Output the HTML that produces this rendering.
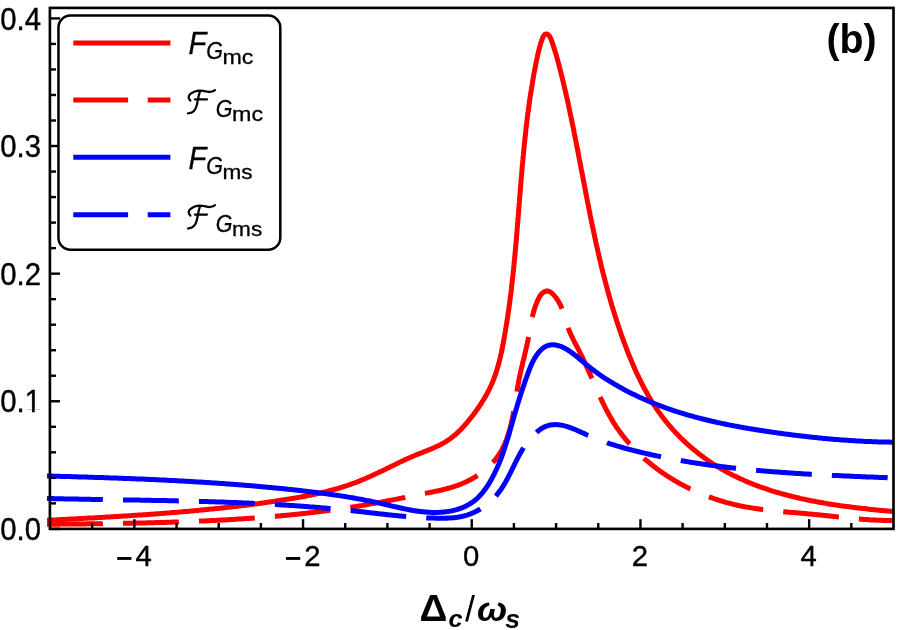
<!DOCTYPE html>
<html><head><meta charset="utf-8"><title>plot</title>
<style>html,body{margin:0;padding:0;background:#fff;color:#fff;font-size:1px;line-height:1px;}body{width:897px;height:630px;overflow:hidden;}svg{display:block;position:absolute;left:0;top:0;will-change:transform;}text{font-family:"Liberation Sans",sans-serif;fill:#000;}</style></head><body>
<svg width="897" height="630" viewBox="0 0 897 630">
<rect x="0" y="0" width="897" height="630" fill="#fff"/>
<g fill="none" stroke-linejoin="round" stroke-linecap="butt" stroke-width="5.00">
<path d="M47.0,520.3 L48.6,520.2 L50.3,520.1 L51.9,520.1 L53.5,520.0 L55.2,519.9 L56.8,519.8 L58.5,519.7 L60.1,519.6 L61.8,519.5 L63.4,519.5 L65.0,519.4 L66.7,519.3 L68.3,519.2 L70.0,519.1 L71.6,519.0 L73.3,518.9 L75.0,518.9 L76.6,518.8 L78.3,518.7 L79.9,518.6 L81.6,518.5 L83.2,518.4 L84.9,518.3 L86.6,518.2 L88.2,518.1 L89.9,518.1 L91.6,518.0 L93.2,517.9 L94.9,517.8 L96.5,517.7 L98.2,517.6 L99.9,517.5 L101.6,517.4 L103.2,517.3 L104.9,517.2 L106.6,517.1 L108.2,517.0 L109.9,516.9 L111.6,516.8 L113.3,516.7 L114.9,516.6 L116.6,516.5 L118.3,516.4 L120.0,516.3 L121.6,516.2 L123.3,516.1 L125.0,516.0 L126.7,515.9 L128.4,515.8 L130.0,515.7 L131.7,515.6 L133.4,515.5 L135.1,515.3 L136.8,515.2 L138.4,515.1 L140.1,515.0 L141.8,514.9 L143.5,514.8 L145.2,514.7 L146.9,514.5 L148.5,514.4 L150.2,514.3 L151.9,514.2 L153.6,514.1 L155.3,513.9 L157.0,513.8 L158.7,513.7 L160.3,513.6 L162.0,513.4 L163.7,513.3 L165.4,513.2 L167.1,513.0 L168.8,512.9 L170.4,512.8 L172.1,512.6 L173.8,512.5 L175.5,512.4 L177.2,512.2 L178.9,512.1 L180.6,511.9 L182.2,511.8 L183.9,511.6 L185.6,511.5 L187.3,511.4 L189.0,511.2 L190.7,511.1 L192.4,510.9 L194.0,510.7 L195.7,510.6 L197.4,510.4 L199.1,510.3 L200.8,510.1 L202.5,510.0 L204.1,509.8 L205.8,509.6 L207.5,509.5 L209.2,509.3 L210.9,509.1 L212.5,509.0 L214.2,508.8 L215.9,508.6 L217.6,508.4 L219.2,508.3 L220.9,508.1 L222.6,507.9 L224.3,507.7 L226.0,507.5 L227.6,507.3 L229.3,507.2 L231.0,507.0 L232.6,506.8 L234.3,506.6 L236.0,506.4 L237.7,506.2 L239.3,506.0 L241.0,505.8 L242.7,505.6 L244.3,505.4 L246.0,505.2 L247.7,505.0 L249.3,504.7 L251.0,504.5 L252.7,504.3 L254.3,504.1 L256.0,503.9 L257.6,503.7 L259.3,503.4 L260.9,503.2 L262.6,503.0 L264.3,502.8 L265.9,502.5 L267.6,502.3 L269.2,502.1 L270.9,501.8 L272.5,501.6 L274.2,501.3 L275.8,501.1 L277.5,500.8 L279.1,500.6 L280.7,500.3 L282.4,500.1 L284.0,499.8 L285.7,499.6 L287.3,499.3 L288.9,499.0 L290.6,498.8 L292.2,498.5 L293.8,498.2 L295.5,497.9 L297.1,497.6 L298.7,497.4 L300.4,497.1 L302.0,496.8 L303.6,496.5 L305.2,496.2 L306.9,495.8 L308.5,495.5 L310.1,495.2 L311.7,494.9 L313.3,494.5 L314.9,494.2 L316.5,493.8 L318.2,493.5 L319.8,493.1 L321.4,492.7 L323.0,492.3 L324.6,492.0 L326.2,491.6 L327.8,491.2 L329.4,490.7 L331.0,490.3 L332.5,489.9 L334.1,489.5 L335.7,489.0 L337.3,488.6 L338.9,488.1 L340.5,487.6 L342.1,487.1 L343.6,486.6 L345.2,486.1 L346.8,485.6 L348.4,485.1 L349.9,484.5 L351.5,484.0 L353.1,483.4 L354.6,482.9 L356.2,482.3 L357.8,481.7 L359.3,481.1 L360.9,480.4 L362.4,479.8 L364.0,479.2 L365.5,478.5 L367.1,477.8 L368.6,477.1 L370.1,476.5 L371.7,475.8 L373.2,475.0 L374.8,474.3 L376.3,473.6 L377.8,472.9 L379.4,472.1 L380.9,471.4 L382.4,470.7 L384.0,469.9 L385.5,469.2 L387.0,468.4 L388.6,467.7 L390.1,466.9 L391.7,466.2 L393.2,465.4 L394.7,464.7 L396.3,463.9 L397.8,463.2 L399.3,462.4 L400.9,461.7 L402.4,461.0 L404.0,460.3 L405.5,459.5 L407.1,458.8 L408.6,458.1 L410.2,457.5 L411.7,456.8 L413.3,456.1 L414.8,455.5 L416.4,454.8 L418.0,454.2 L419.5,453.6 L421.1,453.0 L422.6,452.4 L424.2,451.7 L425.8,451.1 L427.3,450.5 L428.8,449.9 L430.4,449.3 L431.9,448.6 L433.4,448.0 L434.9,447.3 L436.4,446.6 L437.9,445.9 L439.4,445.2 L440.8,444.5 L442.3,443.7 L443.7,442.9 L445.1,442.1 L446.5,441.2 L447.8,440.3 L449.2,439.4 L450.5,438.5 L451.8,437.5 L453.0,436.5 L454.3,435.4 L455.6,434.4 L456.8,433.3 L458.0,432.2 L459.2,431.0 L460.3,429.9 L461.5,428.7 L462.6,427.5 L463.8,426.3 L464.9,425.0 L466.0,423.8 L467.1,422.5 L468.1,421.2 L469.2,419.9 L470.3,418.6 L471.3,417.3 L472.3,416.0 L473.3,414.7 L474.3,413.3 L475.3,412.0 L476.3,410.6 L477.3,409.2 L478.3,407.8 L479.2,406.4 L480.2,405.0 L481.1,403.6 L482.0,402.1 L482.9,400.7 L483.8,399.2 L484.7,397.8 L485.5,396.3 L486.3,394.8 L487.2,393.4 L487.9,391.9 L488.7,390.4 L489.5,388.8 L490.2,387.3 L490.9,385.8 L491.6,384.3 L492.3,382.7 L492.9,381.2 L493.5,379.6 L494.1,378.1 L494.7,376.5 L495.3,374.9 L495.8,373.4 L496.3,371.8 L496.8,370.2 L497.3,368.6 L497.8,367.0 L498.2,365.4 L498.7,363.8 L499.1,362.2 L499.5,360.6 L499.9,359.0 L500.3,357.4 L500.6,355.7 L501.0,354.1 L501.4,352.5 L501.7,350.9 L502.0,349.2 L502.4,347.6 L502.7,346.0 L503.0,344.3 L503.3,342.7 L503.6,341.0 L503.9,339.4 L504.2,337.8 L504.5,336.1 L504.8,334.5 L505.1,332.8 L505.4,331.2 L505.6,329.6 L505.9,327.9 L506.2,326.3 L506.4,324.6 L506.7,323.0 L507.0,321.3 L507.2,319.7 L507.5,318.0 L507.7,316.4 L508.0,314.7 L508.2,313.1 L508.4,311.4 L508.7,309.8 L508.9,308.1 L509.1,306.5 L509.4,304.8 L509.6,303.2 L509.8,301.5 L510.0,299.9 L510.2,298.2 L510.4,296.5 L510.7,294.9 L510.9,293.2 L511.1,291.6 L511.3,289.9 L511.5,288.2 L511.6,286.6 L511.8,284.9 L512.0,283.3 L512.2,281.6 L512.4,279.9 L512.6,278.3 L512.8,276.6 L512.9,274.9 L513.1,273.3 L513.3,271.6 L513.5,270.0 L513.6,268.3 L513.8,266.6 L514.0,265.0 L514.1,263.3 L514.3,261.6 L514.4,260.0 L514.6,258.3 L514.8,256.6 L514.9,255.0 L515.1,253.3 L515.2,251.6 L515.4,249.9 L515.5,248.3 L515.7,246.6 L515.8,244.9 L516.0,243.3 L516.1,241.6 L516.3,239.9 L516.4,238.3 L516.5,236.6 L516.7,234.9 L516.8,233.2 L517.0,231.6 L517.1,229.9 L517.2,228.2 L517.4,226.6 L517.5,224.9 L517.6,223.2 L517.8,221.5 L517.9,219.9 L518.0,218.2 L518.2,216.5 L518.3,214.9 L518.5,213.2 L518.6,211.5 L518.7,209.8 L518.8,208.2 L519.0,206.5 L519.1,204.8 L519.2,203.1 L519.4,201.5 L519.5,199.8 L519.6,198.1 L519.8,196.4 L519.9,194.8 L520.1,193.1 L520.2,191.4 L520.3,189.8 L520.5,188.1 L520.6,186.4 L520.7,184.7 L520.9,183.1 L521.0,181.4 L521.1,179.7 L521.3,178.0 L521.4,176.4 L521.6,174.7 L521.7,173.0 L521.9,171.4 L522.0,169.7 L522.1,168.0 L522.3,166.3 L522.4,164.7 L522.6,163.0 L522.7,161.3 L522.9,159.7 L523.0,158.0 L523.2,156.3 L523.4,154.7 L523.5,153.0 L523.7,151.3 L523.8,149.6 L524.0,148.0 L524.2,146.3 L524.3,144.6 L524.5,143.0 L524.7,141.3 L524.9,139.6 L525.0,138.0 L525.2,136.3 L525.4,134.6 L525.6,133.0 L525.8,131.3 L525.9,129.7 L526.1,128.0 L526.3,126.3 L526.5,124.7 L526.7,123.0 L526.9,121.3 L527.1,119.7 L527.3,118.0 L527.5,116.4 L527.7,114.7 L527.9,113.0 L528.2,111.4 L528.4,109.7 L528.6,108.1 L528.8,106.4 L529.1,104.8 L529.3,103.1 L529.5,101.4 L529.8,99.8 L530.0,98.1 L530.2,96.5 L530.5,94.8 L530.7,93.2 L531.0,91.5 L531.3,89.9 L531.5,88.2 L531.8,86.6 L532.1,84.9 L532.3,83.3 L532.6,81.6 L532.9,80.0 L533.2,78.3 L533.5,76.7 L533.7,75.1 L534.0,73.4 L534.3,71.8 L534.7,70.1 L535.0,68.5 L535.3,66.9 L535.6,65.2 L535.9,63.6 L536.2,61.9 L536.6,60.3 L536.9,58.7 L537.3,57.0 L537.6,55.4 L538.0,53.8 L538.4,52.1 L538.8,50.5 L539.2,48.9 L539.6,47.3 L540.1,45.7 L540.5,44.0 L541.0,42.4 L541.6,40.8 L542.1,39.2 L542.8,37.6 L543.4,36.1 L544.4,34.7 L545.9,34.0 L547.4,34.3 L548.7,35.3 L549.7,36.6 L550.5,38.0 L551.2,39.6 L551.8,41.3 L552.3,42.9 L552.9,44.5 L553.4,46.1 L553.9,47.7 L554.4,49.3 L554.9,50.9 L555.4,52.4 L555.9,54.0 L556.4,55.6 L556.8,57.2 L557.3,58.8 L557.7,60.4 L558.2,62.0 L558.6,63.7 L559.0,65.3 L559.4,66.9 L559.9,68.5 L560.3,70.2 L560.7,71.8 L561.1,73.4 L561.5,75.1 L561.9,76.7 L562.3,78.3 L562.7,80.0 L563.1,81.6 L563.5,83.2 L563.9,84.9 L564.2,86.5 L564.6,88.1 L565.0,89.8 L565.4,91.4 L565.8,93.0 L566.1,94.7 L566.5,96.3 L566.9,97.9 L567.2,99.6 L567.6,101.2 L568.0,102.8 L568.3,104.5 L568.7,106.1 L569.0,107.7 L569.4,109.4 L569.7,111.0 L570.1,112.7 L570.4,114.3 L570.8,115.9 L571.1,117.6 L571.4,119.2 L571.8,120.8 L572.1,122.5 L572.5,124.1 L572.8,125.8 L573.1,127.4 L573.5,129.0 L573.8,130.7 L574.1,132.3 L574.4,134.0 L574.8,135.6 L575.1,137.2 L575.4,138.9 L575.7,140.5 L576.1,142.1 L576.4,143.8 L576.7,145.4 L577.0,147.1 L577.4,148.7 L577.7,150.3 L578.0,152.0 L578.3,153.6 L578.6,155.3 L578.9,156.9 L579.2,158.5 L579.6,160.2 L579.9,161.8 L580.2,163.5 L580.5,165.1 L580.8,166.7 L581.1,168.4 L581.4,170.0 L581.8,171.6 L582.1,173.3 L582.4,174.9 L582.7,176.6 L583.0,178.2 L583.3,179.8 L583.6,181.5 L583.9,183.1 L584.3,184.8 L584.6,186.4 L584.9,188.0 L585.2,189.7 L585.5,191.3 L585.8,192.9 L586.2,194.6 L586.5,196.2 L586.8,197.9 L587.1,199.5 L587.4,201.1 L587.7,202.8 L588.1,204.4 L588.4,206.0 L588.7,207.7 L589.0,209.3 L589.4,210.9 L589.7,212.6 L590.0,214.2 L590.3,215.8 L590.7,217.5 L591.0,219.1 L591.3,220.7 L591.7,222.4 L592.0,224.0 L592.4,225.6 L592.7,227.3 L593.0,228.9 L593.4,230.5 L593.7,232.2 L594.1,233.8 L594.4,235.4 L594.8,237.1 L595.1,238.7 L595.5,240.3 L595.8,242.0 L596.2,243.6 L596.5,245.2 L596.9,246.9 L597.3,248.5 L597.6,250.1 L598.0,251.7 L598.4,253.4 L598.8,255.0 L599.1,256.6 L599.5,258.2 L599.9,259.9 L600.3,261.5 L600.7,263.1 L601.0,264.8 L601.4,266.4 L601.8,268.0 L602.2,269.6 L602.6,271.2 L603.0,272.9 L603.4,274.5 L603.9,276.1 L604.3,277.7 L604.7,279.4 L605.1,281.0 L605.5,282.6 L606.0,284.2 L606.4,285.8 L606.8,287.5 L607.3,289.1 L607.7,290.7 L608.1,292.3 L608.6,293.9 L609.0,295.5 L609.5,297.2 L610.0,298.8 L610.4,300.4 L610.9,302.0 L611.4,303.6 L611.8,305.2 L612.3,306.8 L612.8,308.4 L613.3,310.1 L613.8,311.7 L614.3,313.3 L614.8,314.9 L615.3,316.5 L615.8,318.1 L616.3,319.7 L616.8,321.3 L617.3,322.9 L617.9,324.5 L618.4,326.1 L618.9,327.7 L619.5,329.3 L620.0,330.9 L620.6,332.5 L621.1,334.1 L621.7,335.7 L622.3,337.3 L622.8,338.9 L623.4,340.5 L624.0,342.1 L624.6,343.7 L625.2,345.3 L625.8,346.8 L626.4,348.4 L627.0,350.0 L627.6,351.6 L628.2,353.1 L628.8,354.7 L629.5,356.3 L630.1,357.8 L630.8,359.4 L631.4,360.9 L632.1,362.5 L632.7,364.0 L633.4,365.6 L634.1,367.1 L634.7,368.6 L635.4,370.2 L636.1,371.7 L636.8,373.2 L637.5,374.7 L638.2,376.2 L639.0,377.8 L639.7,379.3 L640.4,380.8 L641.2,382.2 L641.9,383.7 L642.7,385.2 L643.4,386.7 L644.2,388.2 L645.0,389.6 L645.8,391.1 L646.6,392.5 L647.4,394.0 L648.2,395.4 L649.0,396.9 L649.9,398.3 L650.7,399.7 L651.6,401.1 L652.5,402.5 L653.4,403.9 L654.3,405.3 L655.2,406.7 L656.1,408.1 L657.0,409.5 L658.0,410.9 L658.9,412.2 L659.9,413.6 L660.9,414.9 L661.9,416.2 L662.9,417.6 L663.9,418.9 L665.0,420.2 L666.0,421.5 L667.1,422.8 L668.1,424.1 L669.2,425.4 L670.3,426.6 L671.4,427.9 L672.5,429.2 L673.6,430.4 L674.8,431.6 L675.9,432.9 L677.1,434.1 L678.2,435.3 L679.4,436.5 L680.6,437.7 L681.8,438.9 L683.0,440.0 L684.2,441.2 L685.4,442.3 L686.7,443.5 L687.9,444.6 L689.2,445.7 L690.4,446.8 L691.7,447.9 L693.0,449.0 L694.3,450.1 L695.6,451.1 L696.9,452.2 L698.2,453.2 L699.5,454.2 L700.8,455.3 L702.2,456.3 L703.5,457.3 L704.8,458.2 L706.2,459.2 L707.6,460.2 L708.9,461.1 L710.3,462.0 L711.7,463.0 L713.1,463.9 L714.5,464.8 L715.9,465.7 L717.3,466.5 L718.7,467.4 L720.2,468.2 L721.6,469.1 L723.0,469.9 L724.5,470.7 L725.9,471.5 L727.4,472.3 L728.9,473.1 L730.3,473.9 L731.8,474.6 L733.3,475.4 L734.8,476.1 L736.3,476.8 L737.7,477.5 L739.3,478.2 L740.8,478.9 L742.3,479.6 L743.8,480.3 L745.3,481.0 L746.8,481.6 L748.4,482.3 L749.9,482.9 L751.4,483.5 L753.0,484.1 L754.5,484.7 L756.1,485.3 L757.7,485.9 L759.2,486.5 L760.8,487.1 L762.4,487.6 L763.9,488.2 L765.5,488.7 L767.1,489.2 L768.7,489.8 L770.3,490.3 L771.9,490.8 L773.5,491.3 L775.1,491.8 L776.7,492.3 L778.3,492.7 L779.9,493.2 L781.5,493.7 L783.1,494.1 L784.8,494.5 L786.4,495.0 L788.0,495.4 L789.6,495.8 L791.3,496.2 L792.9,496.6 L794.5,497.0 L796.2,497.4 L797.8,497.8 L799.5,498.2 L801.1,498.6 L802.7,498.9 L804.4,499.3 L806.0,499.6 L807.7,500.0 L809.4,500.3 L811.0,500.7 L812.7,501.0 L814.3,501.3 L816.0,501.6 L817.6,501.9 L819.3,502.2 L821.0,502.5 L822.6,502.8 L824.3,503.1 L826.0,503.4 L827.6,503.7 L829.3,503.9 L831.0,504.2 L832.6,504.5 L834.3,504.7 L836.0,505.0 L837.7,505.2 L839.3,505.5 L841.0,505.7 L842.7,505.9 L844.3,506.2 L846.0,506.4 L847.7,506.6 L849.3,506.8 L851.0,507.0 L852.7,507.3 L854.3,507.5 L856.0,507.7 L857.7,507.9 L859.3,508.1 L861.0,508.3 L862.7,508.4 L864.3,508.6 L866.0,508.8 L867.7,509.0 L869.3,509.2 L871.0,509.4 L872.6,509.5 L874.3,509.7 L875.9,509.9 L877.6,510.0 L879.2,510.2 L880.9,510.4 L882.5,510.5 L884.2,510.7 L885.8,510.8 L887.5,511.0 L889.1,511.1 L890.7,511.3 L892.4,511.5 L894.0,511.6" stroke="#ff0000"/>
<path d="M47.0,524.3 L48.2,524.3 L49.4,524.3 L50.7,524.3 L51.9,524.2 L53.1,524.2 L54.3,524.2 L55.5,524.2 L56.7,524.2 L58.0,524.2 L59.2,524.2 L60.4,524.1 L61.6,524.1 L62.8,524.1 L64.1,524.1 L65.3,524.1 L66.5,524.1 L67.7,524.1 L68.9,524.1 L70.2,524.0 L71.4,524.0 L72.6,524.0 L73.8,524.0 L75.1,524.0 L76.3,524.0 L77.5,524.0 L78.7,523.9 L79.9,523.9 L81.2,523.9 L82.4,523.9 L83.6,523.9 L84.8,523.9 L86.0,523.9 L87.3,523.8 L88.5,523.8 L89.7,523.8 L90.9,523.8 L92.2,523.8 L93.4,523.8 L94.6,523.7 L95.8,523.7 L97.0,523.7 L98.3,523.7 L99.5,523.7 L100.7,523.7 L101.9,523.7 L103.2,523.6 L104.4,523.6 L105.6,523.6 L106.8,523.6 L108.0,523.6 L109.3,523.5 L110.5,523.5 L111.7,523.5 L112.9,523.5 L114.2,523.5 L115.4,523.5 L116.6,523.4 L117.8,523.4 L119.0,523.4 L120.3,523.4 L121.5,523.4 L122.7,523.3 L123.9,523.3 L125.2,523.3 L126.4,523.3 L127.6,523.2 L128.8,523.2 L130.1,523.2 L131.3,523.2 L132.5,523.2 L133.7,523.1 L135.0,523.1 L136.2,523.1 L137.4,523.1 L138.6,523.0 L139.8,523.0 L141.1,523.0 L142.3,523.0 L143.5,522.9 L144.7,522.9 L146.0,522.9 L147.2,522.8 L148.4,522.8 L149.6,522.8 L150.9,522.8 L152.1,522.7 L153.3,522.7 L154.5,522.7 L155.8,522.6 L157.0,522.6 L158.2,522.6 L159.4,522.5 L160.6,522.5 L161.9,522.5 L163.1,522.4 L164.3,522.4 L165.5,522.4 L166.8,522.3 L168.0,522.3 L169.2,522.3 L170.4,522.2 L171.7,522.2 L172.9,522.1 L174.1,522.1 L175.3,522.1 L176.5,522.0 L177.8,522.0 L179.0,521.9 L180.2,521.9 L181.4,521.9 L182.7,521.8 L183.9,521.8 L185.1,521.7 L186.3,521.7 L187.5,521.6 L188.8,521.6 L190.0,521.5 L191.2,521.5 L192.4,521.4 L193.7,521.4 L194.9,521.3 L196.1,521.3 L197.3,521.2 L198.5,521.2 L199.8,521.1 L201.0,521.1 L202.2,521.0 L203.4,521.0 L204.6,520.9 L205.9,520.9 L207.1,520.8 L208.3,520.8 L209.5,520.7 L210.7,520.6 L212.0,520.6 L213.2,520.5 L214.4,520.5 L215.6,520.4 L216.8,520.3 L218.1,520.3 L219.3,520.2 L220.5,520.1 L221.7,520.1 L222.9,520.0 L224.2,519.9 L225.4,519.9 L226.6,519.8 L227.8,519.7 L229.0,519.7 L230.3,519.6 L231.5,519.5 L232.7,519.4 L233.9,519.4 L235.1,519.3 L236.3,519.2 L237.6,519.1 L238.8,519.1 L240.0,519.0 L241.2,518.9 L242.4,518.8 L243.6,518.8 L244.9,518.7 L246.1,518.6 L247.3,518.5 L248.5,518.4 L249.7,518.3 L250.9,518.2 L252.2,518.2 L253.4,518.1 L254.6,518.0 L255.8,517.9 L257.0,517.8 L258.2,517.7 L259.5,517.6 L260.7,517.5 L261.9,517.4 L263.1,517.3 L264.3,517.2 L265.5,517.1 L266.8,517.0 L268.0,516.9 L269.2,516.8 L270.4,516.7 L271.6,516.6 L272.8,516.5 L274.0,516.4 L275.3,516.3 L276.5,516.2 L277.7,516.1 L278.9,516.0 L280.1,515.9 L281.3,515.7 L282.5,515.6 L283.8,515.5 L285.0,515.4 L286.2,515.3 L287.4,515.2 L288.6,515.1 L289.8,514.9 L291.0,514.8 L292.2,514.7 L293.5,514.6 L294.7,514.4 L295.9,514.3 L297.1,514.2 L298.3,514.1 L299.5,513.9 L300.7,513.8 L302.0,513.7 L303.2,513.5 L304.4,513.4 L305.6,513.3 L306.8,513.1 L308.0,513.0 L309.2,512.8 L310.4,512.7 L311.7,512.6 L312.9,512.4 L314.1,512.3 L315.3,512.1 L316.5,512.0 L317.7,511.8 L318.9,511.7 L320.1,511.5 L321.3,511.4 L322.6,511.2 L323.8,511.1 L325.0,510.9 L326.2,510.8 L327.4,510.6 L328.6,510.4 L329.8,510.3 L331.0,510.1 L332.2,509.9 L333.5,509.8 L334.7,509.6 L335.9,509.4 L337.1,509.3 L338.3,509.1 L339.5,508.9 L340.7,508.8 L341.9,508.6 L343.1,508.4 L344.4,508.2 L345.6,508.0 L346.8,507.9 L348.0,507.7 L349.2,507.5 L350.4,507.3 L351.6,507.1 L352.8,506.9 L354.0,506.7 L355.2,506.6 L356.5,506.4 L357.7,506.2 L358.9,506.0 L360.1,505.8 L361.3,505.6 L362.5,505.4 L363.7,505.2 L364.9,505.0 L366.1,504.8 L367.3,504.6 L368.6,504.3 L369.8,504.1 L371.0,503.9 L372.2,503.7 L373.4,503.5 L374.6,503.3 L375.8,503.1 L377.0,502.8 L378.2,502.6 L379.4,502.4 L380.7,502.2 L381.9,501.9 L383.1,501.7 L384.3,501.5 L385.5,501.3 L386.7,501.0 L387.9,500.8 L389.1,500.6 L390.3,500.3 L391.5,500.1 L392.7,499.9 L394.0,499.6 L395.2,499.4 L396.4,499.1 L397.6,498.9 L398.8,498.7 L400.0,498.4 L401.2,498.2 L402.4,497.9 L403.6,497.7 L404.8,497.5 L406.0,497.2 L407.2,497.0 L408.4,496.7 L409.6,496.5 L410.8,496.2 L412.0,496.0 L413.2,495.8 L414.4,495.5 L415.6,495.3 L416.8,495.0 L418.0,494.8 L419.2,494.6 L420.4,494.3 L421.6,494.1 L422.8,493.8 L423.9,493.6 L425.1,493.4 L426.3,493.1 L427.5,492.9 L428.7,492.7 L429.9,492.4 L431.0,492.2 L432.2,492.0 L433.4,491.7 L434.6,491.5 L435.8,491.2 L436.9,491.0 L438.1,490.7 L439.3,490.5 L440.4,490.2 L441.6,490.0 L442.8,489.7 L443.9,489.4 L445.1,489.1 L446.3,488.8 L447.4,488.5 L448.6,488.2 L449.7,487.9 L450.9,487.5 L452.0,487.2 L453.2,486.8 L454.3,486.5 L455.5,486.1 L456.6,485.7 L457.8,485.3 L458.9,484.9 L460.1,484.4 L461.2,484.0 L462.3,483.5 L463.5,483.0 L464.6,482.5 L465.7,482.0 L466.8,481.5 L468.0,480.9 L469.1,480.4 L470.2,479.8 L471.3,479.2 L472.4,478.6 L473.5,477.9 L474.6,477.3 L475.7,476.6 L476.7,475.9 L477.8,475.2 L478.8,474.5 L479.9,473.8 L480.9,473.1 L481.9,472.3 L482.9,471.5 L483.9,470.8 L484.9,470.0 L485.9,469.2 L486.8,468.4 L487.7,467.5 L488.7,466.7 L489.6,465.8 L490.4,465.0 L491.3,464.1 L492.1,463.2 L493.0,462.3 L493.8,461.4 L494.6,460.4 L495.3,459.5 L496.1,458.6 L496.8,457.6 L497.5,456.6 L498.2,455.7 L498.8,454.7 L499.5,453.7 L500.1,452.7 L500.7,451.7 L501.3,450.7 L501.9,449.6 L502.4,448.6 L503.0,447.5 L503.5,446.5 L504.0,445.4 L504.5,444.3 L505.0,443.3 L505.4,442.2 L505.9,441.1 L506.3,440.0 L506.7,438.9 L507.1,437.8 L507.5,436.6 L507.9,435.5 L508.3,434.4 L508.6,433.2 L509.0,432.1 L509.3,430.9 L509.7,429.8 L510.0,428.6 L510.3,427.5 L510.6,426.3 L510.9,425.1 L511.2,423.9 L511.4,422.7 L511.7,421.5 L512.0,420.4 L512.2,419.2 L512.5,418.0 L512.7,416.7 L512.9,415.5 L513.2,414.3 L513.4,413.1 L513.6,411.9 L513.8,410.7 L514.0,409.4 L514.2,408.2 L514.4,407.0 L514.6,405.8 L514.8,404.5 L515.0,403.3 L515.2,402.1 L515.4,400.8 L515.6,399.6 L515.8,398.4 L516.0,397.1 L516.2,395.9 L516.4,394.7 L516.6,393.4 L516.8,392.2 L517.0,390.9 L517.2,389.7 L517.4,388.5 L517.6,387.2 L517.8,386.0 L518.1,384.8 L518.3,383.5 L518.5,382.3 L518.7,381.1 L519.0,379.8 L519.2,378.6 L519.5,377.4 L519.7,376.2 L520.0,375.0 L520.2,373.7 L520.5,372.5 L520.8,371.3 L521.0,370.1 L521.3,368.9 L521.6,367.7 L521.9,366.5 L522.2,365.3 L522.5,364.1 L522.7,362.9 L523.0,361.7 L523.3,360.5 L523.6,359.3 L523.9,358.1 L524.2,356.9 L524.5,355.7 L524.7,354.5 L525.0,353.3 L525.3,352.1 L525.6,350.9 L525.9,349.8 L526.1,348.6 L526.4,347.4 L526.7,346.2 L526.9,345.0 L527.2,343.8 L527.5,342.7 L527.7,341.5 L527.9,340.3 L528.2,339.1 L528.4,338.0 L528.6,336.8 L528.9,335.6 L529.1,334.4 L529.3,333.3 L529.5,332.1 L529.7,330.9 L529.9,329.7 L530.1,328.6 L530.3,327.4 L530.5,326.2 L530.7,325.1 L530.9,323.9 L531.1,322.7 L531.4,321.5 L531.6,320.4 L531.8,319.2 L532.1,318.0 L532.4,316.9 L532.6,315.7 L532.9,314.5 L533.2,313.4 L533.5,312.2 L533.8,311.0 L534.2,309.8 L534.6,308.7 L534.9,307.5 L535.3,306.3 L535.8,305.2 L536.2,304.0 L536.7,302.8 L537.1,301.6 L537.7,300.5 L538.2,299.3 L538.8,298.1 L539.4,297.0 L540.0,295.9 L540.8,294.9 L541.6,293.9 L542.4,293.1 L543.4,292.3 L544.5,291.7 L545.6,291.2 L546.7,291.0 L547.8,291.0 L548.9,291.3 L550.0,291.8 L551.1,292.5 L552.1,293.3 L553.0,294.3 L554.0,295.3 L554.8,296.3 L555.7,297.3 L556.4,298.4 L557.2,299.4 L557.8,300.4 L558.5,301.5 L559.1,302.5 L559.7,303.6 L560.2,304.6 L560.7,305.7 L561.2,306.7 L561.6,307.8 L562.1,308.9 L562.5,310.0 L562.9,311.0 L563.2,312.1 L563.6,313.2 L563.9,314.3 L564.3,315.4 L564.6,316.5 L564.9,317.6 L565.2,318.7 L565.6,319.8 L565.9,320.9 L566.2,322.0 L566.6,323.1 L566.9,324.2 L567.3,325.3 L567.6,326.5 L568.0,327.6 L568.4,328.7 L568.9,329.8 L569.3,331.0 L569.8,332.1 L570.3,333.2 L570.8,334.3 L571.3,335.5 L571.9,336.6 L572.4,337.8 L573.0,338.9 L573.5,340.0 L574.1,341.2 L574.7,342.3 L575.3,343.5 L575.9,344.6 L576.5,345.8 L577.1,346.9 L577.7,348.1 L578.3,349.2 L578.9,350.4 L579.5,351.5 L580.0,352.7 L580.6,353.8 L581.2,355.0 L581.7,356.1 L582.3,357.3 L582.9,358.4 L583.4,359.6 L584.0,360.8 L584.5,361.9 L585.0,363.1 L585.6,364.2 L586.1,365.4 L586.6,366.5 L587.1,367.7 L587.7,368.8 L588.2,370.0 L588.7,371.1 L589.2,372.3 L589.7,373.4 L590.2,374.6 L590.7,375.7 L591.2,376.8 L591.7,378.0 L592.2,379.1 L592.7,380.3 L593.2,381.4 L593.7,382.5 L594.2,383.7 L594.7,384.8 L595.2,385.9 L595.7,387.1 L596.2,388.2 L596.7,389.3 L597.2,390.4 L597.7,391.6 L598.2,392.7 L598.7,393.8 L599.2,394.9 L599.7,396.0 L600.2,397.1 L600.7,398.2 L601.2,399.3 L601.7,400.4 L602.2,401.5 L602.8,402.6 L603.3,403.7 L603.8,404.8 L604.4,405.9 L604.9,407.0 L605.4,408.0 L606.0,409.1 L606.5,410.2 L607.1,411.2 L607.7,412.3 L608.2,413.3 L608.8,414.4 L609.4,415.4 L610.0,416.5 L610.6,417.5 L611.2,418.6 L611.8,419.6 L612.4,420.6 L613.0,421.6 L613.6,422.7 L614.3,423.7 L614.9,424.7 L615.6,425.7 L616.2,426.7 L616.9,427.7 L617.6,428.6 L618.3,429.6 L619.0,430.6 L619.7,431.6 L620.4,432.5 L621.1,433.5 L621.8,434.5 L622.5,435.4 L623.3,436.4 L624.0,437.3 L624.8,438.2 L625.5,439.2 L626.3,440.1 L627.1,441.0 L627.9,441.9 L628.7,442.8 L629.4,443.7 L630.3,444.6 L631.1,445.5 L631.9,446.4 L632.7,447.3 L633.5,448.2 L634.4,449.0 L635.2,449.9 L636.1,450.8 L636.9,451.6 L637.8,452.5 L638.6,453.3 L639.5,454.1 L640.4,455.0 L641.3,455.8 L642.2,456.6 L643.1,457.4 L644.0,458.3 L644.9,459.1 L645.8,459.9 L646.7,460.7 L647.7,461.4 L648.6,462.2 L649.5,463.0 L650.5,463.8 L651.4,464.5 L652.4,465.3 L653.3,466.0 L654.3,466.8 L655.3,467.5 L656.3,468.3 L657.2,469.0 L658.2,469.7 L659.2,470.4 L660.2,471.2 L661.2,471.9 L662.2,472.6 L663.2,473.3 L664.2,474.0 L665.3,474.6 L666.3,475.3 L667.3,476.0 L668.3,476.7 L669.4,477.3 L670.4,478.0 L671.5,478.6 L672.5,479.3 L673.6,479.9 L674.6,480.5 L675.7,481.1 L676.8,481.8 L677.8,482.4 L678.9,483.0 L680.0,483.6 L681.1,484.2 L682.2,484.7 L683.2,485.3 L684.3,485.9 L685.4,486.5 L686.5,487.0 L687.6,487.6 L688.7,488.1 L689.8,488.7 L691.0,489.2 L692.1,489.7 L693.2,490.3 L694.3,490.8 L695.4,491.3 L696.6,491.8 L697.7,492.3 L698.8,492.8 L700.0,493.3 L701.1,493.7 L702.2,494.2 L703.4,494.7 L704.5,495.1 L705.7,495.6 L706.8,496.0 L708.0,496.5 L709.1,496.9 L710.3,497.3 L711.5,497.7 L712.6,498.1 L713.8,498.5 L714.9,498.9 L716.1,499.3 L717.3,499.7 L718.4,500.1 L719.6,500.5 L720.8,500.8 L722.0,501.2 L723.1,501.5 L724.3,501.9 L725.5,502.2 L726.7,502.6 L727.9,502.9 L729.0,503.2 L730.2,503.5 L731.4,503.8 L732.6,504.1 L733.8,504.4 L735.0,504.7 L736.2,504.9 L737.4,505.2 L738.5,505.5 L739.7,505.7 L740.9,506.0 L742.1,506.2 L743.3,506.4 L744.5,506.7 L745.7,506.9 L746.9,507.1 L748.1,507.3 L749.3,507.5 L750.5,507.7 L751.7,507.9 L752.9,508.1 L754.1,508.3 L755.3,508.5 L756.5,508.7 L757.7,508.8 L758.9,509.0 L760.1,509.2 L761.3,509.3 L762.5,509.5 L763.7,509.6 L764.9,509.8 L766.1,509.9 L767.3,510.1 L768.5,510.2 L769.7,510.3 L771.0,510.5 L772.2,510.6 L773.4,510.7 L774.6,510.8 L775.8,511.0 L777.0,511.1 L778.2,511.2 L779.4,511.3 L780.6,511.4 L781.9,511.5 L783.1,511.7 L784.3,511.8 L785.5,511.9 L786.7,512.0 L787.9,512.1 L789.1,512.2 L790.4,512.3 L791.6,512.4 L792.8,512.5 L794.0,512.6 L795.2,512.7 L796.4,512.8 L797.7,512.9 L798.9,513.0 L800.1,513.1 L801.3,513.2 L802.5,513.3 L803.8,513.4 L805.0,513.5 L806.2,513.6 L807.4,513.8 L808.6,513.9 L809.8,514.0 L811.1,514.1 L812.3,514.2 L813.5,514.3 L814.7,514.4 L816.0,514.6 L817.2,514.7 L818.4,514.8 L819.6,514.9 L820.8,515.1 L822.1,515.2 L823.3,515.3 L824.5,515.5 L825.7,515.6 L827.0,515.7 L828.2,515.8 L829.4,516.0 L830.6,516.1 L831.8,516.2 L833.1,516.4 L834.3,516.5 L835.5,516.6 L836.7,516.8 L838.0,516.9 L839.2,517.0 L840.4,517.2 L841.6,517.3 L842.8,517.4 L844.1,517.6 L845.3,517.7 L846.5,517.8 L847.7,517.9 L849.0,518.1 L850.2,518.2 L851.4,518.3 L852.6,518.4 L853.8,518.5 L855.1,518.6 L856.3,518.8 L857.5,518.9 L858.7,519.0 L859.9,519.1 L861.2,519.2 L862.4,519.3 L863.6,519.4 L864.8,519.5 L866.0,519.5 L867.3,519.6 L868.5,519.7 L869.7,519.8 L870.9,519.9 L872.1,519.9 L873.4,520.0 L874.6,520.1 L875.8,520.1 L877.0,520.2 L878.2,520.2 L879.4,520.3 L880.7,520.3 L881.9,520.3 L883.1,520.4 L884.3,520.4 L885.5,520.4 L886.7,520.4 L887.9,520.4 L889.2,520.4 L890.4,520.4 L891.6,520.4 L892.8,520.4 L894.0,520.4" stroke="#ff0000" stroke-dasharray="55.9 20.15"/>
<path d="M47.0,476.0 L48.1,476.0 L49.2,476.1 L50.2,476.1 L51.3,476.1 L52.4,476.1 L53.5,476.2 L54.5,476.2 L55.6,476.2 L56.7,476.3 L57.8,476.3 L58.8,476.3 L59.9,476.3 L61.0,476.4 L62.1,476.4 L63.2,476.4 L64.2,476.5 L65.3,476.5 L66.4,476.5 L67.5,476.6 L68.6,476.6 L69.6,476.6 L70.7,476.6 L71.8,476.7 L72.9,476.7 L74.0,476.7 L75.0,476.8 L76.1,476.8 L77.2,476.8 L78.3,476.9 L79.4,476.9 L80.4,476.9 L81.5,477.0 L82.6,477.0 L83.7,477.0 L84.8,477.1 L85.9,477.1 L86.9,477.1 L88.0,477.2 L89.1,477.2 L90.2,477.2 L91.3,477.3 L92.3,477.3 L93.4,477.3 L94.5,477.4 L95.6,477.4 L96.7,477.4 L97.8,477.5 L98.8,477.5 L99.9,477.5 L101.0,477.6 L102.1,477.6 L103.2,477.6 L104.3,477.7 L105.3,477.7 L106.4,477.7 L107.5,477.8 L108.6,477.8 L109.7,477.9 L110.8,477.9 L111.9,477.9 L112.9,478.0 L114.0,478.0 L115.1,478.0 L116.2,478.1 L117.3,478.1 L118.4,478.2 L119.4,478.2 L120.5,478.2 L121.6,478.3 L122.7,478.3 L123.8,478.4 L124.9,478.4 L126.0,478.4 L127.0,478.5 L128.1,478.5 L129.2,478.6 L130.3,478.6 L131.4,478.7 L132.5,478.7 L133.6,478.7 L134.6,478.8 L135.7,478.8 L136.8,478.9 L137.9,478.9 L139.0,479.0 L140.1,479.0 L141.2,479.1 L142.3,479.1 L143.3,479.1 L144.4,479.2 L145.5,479.2 L146.6,479.3 L147.7,479.3 L148.8,479.4 L149.9,479.4 L150.9,479.5 L152.0,479.5 L153.1,479.6 L154.2,479.6 L155.3,479.7 L156.4,479.7 L157.5,479.8 L158.6,479.8 L159.6,479.9 L160.7,479.9 L161.8,480.0 L162.9,480.0 L164.0,480.1 L165.1,480.1 L166.2,480.2 L167.2,480.2 L168.3,480.3 L169.4,480.4 L170.5,480.4 L171.6,480.5 L172.7,480.5 L173.8,480.6 L174.9,480.6 L175.9,480.7 L177.0,480.7 L178.1,480.8 L179.2,480.9 L180.3,480.9 L181.4,481.0 L182.5,481.0 L183.5,481.1 L184.6,481.2 L185.7,481.2 L186.8,481.3 L187.9,481.3 L189.0,481.4 L190.1,481.5 L191.1,481.5 L192.2,481.6 L193.3,481.7 L194.4,481.7 L195.5,481.8 L196.6,481.9 L197.7,481.9 L198.7,482.0 L199.8,482.0 L200.9,482.1 L202.0,482.2 L203.1,482.2 L204.2,482.3 L205.3,482.4 L206.3,482.5 L207.4,482.5 L208.5,482.6 L209.6,482.7 L210.7,482.7 L211.8,482.8 L212.9,482.9 L213.9,483.0 L215.0,483.0 L216.1,483.1 L217.2,483.2 L218.3,483.2 L219.4,483.3 L220.4,483.4 L221.5,483.5 L222.6,483.5 L223.7,483.6 L224.8,483.7 L225.9,483.8 L226.9,483.9 L228.0,483.9 L229.1,484.0 L230.2,484.1 L231.3,484.2 L232.4,484.3 L233.4,484.3 L234.5,484.4 L235.6,484.5 L236.7,484.6 L237.8,484.7 L238.9,484.8 L239.9,484.8 L241.0,484.9 L242.1,485.0 L243.2,485.1 L244.3,485.2 L245.3,485.3 L246.4,485.4 L247.5,485.5 L248.6,485.5 L249.7,485.6 L250.7,485.7 L251.8,485.8 L252.9,485.9 L254.0,486.0 L255.1,486.1 L256.1,486.2 L257.2,486.3 L258.3,486.4 L259.4,486.5 L260.5,486.6 L261.5,486.7 L262.6,486.8 L263.7,486.9 L264.8,487.0 L265.9,487.1 L266.9,487.2 L268.0,487.3 L269.1,487.4 L270.2,487.5 L271.2,487.6 L272.3,487.7 L273.4,487.8 L274.5,487.9 L275.5,488.0 L276.6,488.1 L277.7,488.2 L278.8,488.3 L279.8,488.4 L280.9,488.5 L282.0,488.6 L283.1,488.7 L284.1,488.8 L285.2,489.0 L286.3,489.1 L287.4,489.2 L288.4,489.3 L289.5,489.4 L290.6,489.5 L291.7,489.6 L292.7,489.7 L293.8,489.9 L294.9,490.0 L296.0,490.1 L297.0,490.2 L298.1,490.3 L299.2,490.5 L300.2,490.6 L301.3,490.7 L302.4,490.8 L303.5,490.9 L304.5,491.1 L305.6,491.2 L306.7,491.3 L307.7,491.4 L308.8,491.6 L309.9,491.7 L310.9,491.8 L312.0,491.9 L313.1,492.1 L314.1,492.2 L315.2,492.3 L316.3,492.5 L317.3,492.6 L318.4,492.7 L319.5,492.9 L320.6,493.0 L321.6,493.2 L322.7,493.3 L323.8,493.4 L324.8,493.6 L325.9,493.7 L327.0,493.9 L328.0,494.0 L329.1,494.2 L330.2,494.3 L331.2,494.5 L332.3,494.6 L333.4,494.8 L334.4,494.9 L335.5,495.1 L336.6,495.2 L337.6,495.4 L338.7,495.6 L339.8,495.7 L340.8,495.9 L341.9,496.1 L343.0,496.2 L344.0,496.4 L345.1,496.6 L346.2,496.7 L347.2,496.9 L348.3,497.1 L349.4,497.3 L350.4,497.4 L351.5,497.6 L352.6,497.8 L353.6,498.0 L354.7,498.2 L355.8,498.4 L356.8,498.6 L357.9,498.8 L359.0,498.9 L360.0,499.1 L361.1,499.3 L362.2,499.5 L363.2,499.7 L364.3,500.0 L365.4,500.2 L366.4,500.4 L367.5,500.6 L368.6,500.8 L369.6,501.0 L370.7,501.2 L371.8,501.5 L372.8,501.7 L373.9,501.9 L375.0,502.1 L376.0,502.4 L377.1,502.6 L378.2,502.8 L379.3,503.1 L380.3,503.3 L381.4,503.6 L382.5,503.8 L383.5,504.0 L384.6,504.3 L385.7,504.5 L386.8,504.8 L387.8,505.0 L388.9,505.3 L390.0,505.5 L391.0,505.8 L392.1,506.1 L393.2,506.3 L394.3,506.6 L395.3,506.8 L396.4,507.0 L397.5,507.3 L398.6,507.5 L399.6,507.8 L400.7,508.0 L401.8,508.2 L402.9,508.5 L403.9,508.7 L405.0,508.9 L406.1,509.1 L407.2,509.4 L408.3,509.6 L409.3,509.8 L410.4,510.0 L411.5,510.2 L412.6,510.4 L413.7,510.5 L414.7,510.7 L415.8,510.9 L416.9,511.0 L418.0,511.2 L419.1,511.3 L420.1,511.5 L421.2,511.6 L422.3,511.7 L423.4,511.8 L424.5,512.0 L425.6,512.0 L426.7,512.1 L427.7,512.2 L428.8,512.3 L429.9,512.3 L431.0,512.4 L432.1,512.4 L433.2,512.4 L434.3,512.4 L435.4,512.4 L436.4,512.4 L437.5,512.4 L438.6,512.4 L439.7,512.3 L440.8,512.3 L441.9,512.2 L442.9,512.1 L444.0,512.0 L445.1,511.9 L446.1,511.7 L447.2,511.6 L448.3,511.4 L449.3,511.3 L450.4,511.1 L451.4,510.9 L452.5,510.7 L453.5,510.4 L454.5,510.2 L455.5,509.9 L456.6,509.6 L457.6,509.3 L458.6,509.0 L459.6,508.7 L460.5,508.3 L461.5,508.0 L462.5,507.6 L463.5,507.2 L464.4,506.8 L465.4,506.3 L466.3,505.9 L467.2,505.4 L468.1,504.9 L469.0,504.4 L469.9,503.8 L470.8,503.3 L471.7,502.7 L472.6,502.1 L473.4,501.5 L474.2,500.9 L475.1,500.2 L475.9,499.5 L476.7,498.8 L477.5,498.1 L478.2,497.4 L479.0,496.6 L479.8,495.8 L480.5,495.0 L481.2,494.2 L481.9,493.4 L482.6,492.6 L483.3,491.7 L484.0,490.8 L484.7,489.9 L485.3,489.0 L486.0,488.1 L486.6,487.2 L487.2,486.3 L487.9,485.3 L488.5,484.4 L489.1,483.4 L489.6,482.5 L490.2,481.5 L490.8,480.5 L491.3,479.5 L491.9,478.5 L492.4,477.5 L492.9,476.5 L493.4,475.5 L494.0,474.5 L494.5,473.5 L494.9,472.5 L495.4,471.5 L495.9,470.5 L496.4,469.5 L496.8,468.5 L497.3,467.5 L497.7,466.5 L498.1,465.5 L498.6,464.5 L499.0,463.5 L499.4,462.5 L499.8,461.5 L500.2,460.5 L500.6,459.5 L501.0,458.5 L501.4,457.5 L501.7,456.5 L502.1,455.5 L502.5,454.5 L502.8,453.5 L503.2,452.5 L503.5,451.4 L503.9,450.4 L504.2,449.4 L504.6,448.4 L504.9,447.4 L505.2,446.4 L505.6,445.4 L505.9,444.4 L506.2,443.4 L506.5,442.4 L506.8,441.4 L507.1,440.3 L507.4,439.3 L507.8,438.3 L508.1,437.3 L508.4,436.3 L508.7,435.2 L509.0,434.2 L509.3,433.2 L509.6,432.2 L509.8,431.1 L510.1,430.1 L510.4,429.1 L510.7,428.1 L511.0,427.0 L511.3,426.0 L511.6,425.0 L511.9,423.9 L512.2,422.9 L512.5,421.8 L512.8,420.8 L513.1,419.7 L513.4,418.7 L513.7,417.6 L514.0,416.6 L514.3,415.5 L514.6,414.5 L514.9,413.4 L515.2,412.4 L515.5,411.3 L515.8,410.2 L516.2,409.2 L516.5,408.1 L516.8,407.1 L517.1,406.0 L517.4,404.9 L517.8,403.9 L518.1,402.8 L518.4,401.8 L518.7,400.7 L519.1,399.6 L519.4,398.6 L519.7,397.5 L520.0,396.5 L520.4,395.5 L520.7,394.4 L521.0,393.4 L521.4,392.3 L521.7,391.3 L522.1,390.3 L522.4,389.3 L522.7,388.2 L523.1,387.2 L523.4,386.2 L523.8,385.2 L524.1,384.2 L524.5,383.2 L524.8,382.2 L525.1,381.2 L525.5,380.2 L525.8,379.2 L526.2,378.2 L526.6,377.3 L526.9,376.3 L527.3,375.3 L527.6,374.3 L528.0,373.3 L528.3,372.3 L528.7,371.3 L529.1,370.2 L529.5,369.2 L529.9,368.2 L530.3,367.2 L530.7,366.2 L531.1,365.2 L531.5,364.2 L532.0,363.3 L532.5,362.3 L533.0,361.3 L533.5,360.3 L534.0,359.4 L534.5,358.4 L535.1,357.5 L535.7,356.5 L536.3,355.6 L537.0,354.7 L537.6,353.8 L538.3,352.9 L539.0,352.0 L539.8,351.2 L540.6,350.3 L541.4,349.6 L542.2,348.8 L543.0,348.1 L543.9,347.5 L544.8,346.9 L545.8,346.4 L546.7,345.9 L547.7,345.6 L548.7,345.3 L549.7,345.0 L550.7,344.9 L551.8,344.8 L552.8,344.8 L553.9,344.8 L555.0,344.9 L556.0,345.1 L557.1,345.3 L558.2,345.6 L559.2,345.9 L560.3,346.2 L561.3,346.6 L562.3,347.1 L563.3,347.5 L564.3,348.0 L565.3,348.5 L566.2,349.1 L567.2,349.6 L568.1,350.2 L569.0,350.8 L569.9,351.4 L570.8,352.0 L571.7,352.7 L572.6,353.3 L573.5,354.0 L574.4,354.7 L575.2,355.4 L576.1,356.0 L576.9,356.7 L577.8,357.4 L578.6,358.1 L579.4,358.8 L580.2,359.5 L581.1,360.2 L581.9,360.9 L582.7,361.6 L583.5,362.2 L584.3,362.9 L585.2,363.6 L586.0,364.3 L586.8,364.9 L587.6,365.6 L588.4,366.2 L589.2,366.9 L590.1,367.5 L590.9,368.2 L591.7,368.8 L592.5,369.5 L593.4,370.1 L594.2,370.8 L595.1,371.4 L595.9,372.0 L596.8,372.7 L597.7,373.3 L598.5,373.9 L599.4,374.5 L600.3,375.1 L601.2,375.8 L602.1,376.4 L603.0,377.0 L603.9,377.6 L604.8,378.2 L605.8,378.8 L606.7,379.4 L607.6,379.9 L608.5,380.5 L609.5,381.1 L610.4,381.7 L611.4,382.3 L612.3,382.8 L613.3,383.4 L614.2,384.0 L615.2,384.5 L616.1,385.1 L617.1,385.6 L618.0,386.2 L619.0,386.7 L620.0,387.3 L620.9,387.8 L621.9,388.3 L622.9,388.8 L623.8,389.4 L624.8,389.9 L625.8,390.4 L626.8,390.9 L627.7,391.4 L628.7,391.9 L629.7,392.4 L630.7,392.9 L631.6,393.4 L632.6,393.9 L633.6,394.4 L634.6,394.8 L635.6,395.3 L636.5,395.8 L637.5,396.2 L638.5,396.7 L639.5,397.2 L640.5,397.6 L641.5,398.1 L642.5,398.5 L643.5,399.0 L644.5,399.4 L645.5,399.8 L646.5,400.3 L647.5,400.7 L648.4,401.1 L649.4,401.5 L650.4,401.9 L651.4,402.4 L652.4,402.8 L653.5,403.2 L654.5,403.6 L655.5,404.0 L656.5,404.4 L657.5,404.8 L658.5,405.2 L659.5,405.5 L660.5,405.9 L661.5,406.3 L662.5,406.7 L663.5,407.0 L664.6,407.4 L665.6,407.8 L666.6,408.1 L667.6,408.5 L668.6,408.9 L669.6,409.2 L670.7,409.6 L671.7,409.9 L672.7,410.3 L673.7,410.6 L674.7,410.9 L675.8,411.3 L676.8,411.6 L677.8,411.9 L678.8,412.3 L679.9,412.6 L680.9,412.9 L681.9,413.2 L683.0,413.5 L684.0,413.8 L685.0,414.2 L686.1,414.5 L687.1,414.8 L688.1,415.1 L689.2,415.4 L690.2,415.7 L691.2,415.9 L692.3,416.2 L693.3,416.5 L694.3,416.8 L695.4,417.1 L696.4,417.4 L697.5,417.6 L698.5,417.9 L699.5,418.2 L700.6,418.5 L701.6,418.7 L702.7,419.0 L703.7,419.3 L704.8,419.5 L705.8,419.8 L706.9,420.0 L707.9,420.3 L709.0,420.5 L710.0,420.8 L711.1,421.0 L712.1,421.3 L713.2,421.5 L714.2,421.8 L715.3,422.0 L716.3,422.2 L717.4,422.5 L718.4,422.7 L719.5,422.9 L720.6,423.1 L721.6,423.4 L722.7,423.6 L723.7,423.8 L724.8,424.0 L725.8,424.3 L726.9,424.5 L728.0,424.7 L729.0,424.9 L730.1,425.1 L731.1,425.3 L732.2,425.5 L733.3,425.7 L734.3,425.9 L735.4,426.1 L736.5,426.3 L737.5,426.5 L738.6,426.7 L739.7,426.9 L740.7,427.1 L741.8,427.3 L742.9,427.5 L743.9,427.7 L745.0,427.9 L746.1,428.0 L747.1,428.2 L748.2,428.4 L749.3,428.6 L750.3,428.8 L751.4,429.0 L752.5,429.1 L753.6,429.3 L754.6,429.5 L755.7,429.7 L756.8,429.8 L757.9,430.0 L758.9,430.2 L760.0,430.3 L761.1,430.5 L762.2,430.7 L763.2,430.8 L764.3,431.0 L765.4,431.2 L766.5,431.3 L767.5,431.5 L768.6,431.6 L769.7,431.8 L770.8,432.0 L771.8,432.1 L772.9,432.3 L774.0,432.4 L775.1,432.6 L776.2,432.7 L777.2,432.9 L778.3,433.0 L779.4,433.2 L780.5,433.3 L781.6,433.5 L782.6,433.6 L783.7,433.8 L784.8,433.9 L785.9,434.1 L787.0,434.2 L788.0,434.3 L789.1,434.5 L790.2,434.6 L791.3,434.8 L792.4,434.9 L793.5,435.0 L794.5,435.2 L795.6,435.3 L796.7,435.4 L797.8,435.6 L798.9,435.7 L800.0,435.8 L801.0,436.0 L802.1,436.1 L803.2,436.2 L804.3,436.3 L805.4,436.5 L806.5,436.6 L807.5,436.7 L808.6,436.8 L809.7,436.9 L810.8,437.1 L811.9,437.2 L813.0,437.3 L814.1,437.4 L815.1,437.5 L816.2,437.6 L817.3,437.7 L818.4,437.9 L819.5,438.0 L820.6,438.1 L821.6,438.2 L822.7,438.3 L823.8,438.4 L824.9,438.5 L826.0,438.6 L827.1,438.7 L828.2,438.8 L829.2,438.9 L830.3,439.0 L831.4,439.1 L832.5,439.2 L833.6,439.3 L834.7,439.4 L835.7,439.4 L836.8,439.5 L837.9,439.6 L839.0,439.7 L840.1,439.8 L841.2,439.9 L842.3,440.0 L843.3,440.0 L844.4,440.1 L845.5,440.2 L846.6,440.3 L847.7,440.3 L848.8,440.4 L849.8,440.5 L850.9,440.6 L852.0,440.6 L853.1,440.7 L854.2,440.8 L855.2,440.8 L856.3,440.9 L857.4,441.0 L858.5,441.0 L859.6,441.1 L860.6,441.1 L861.7,441.2 L862.8,441.3 L863.9,441.3 L865.0,441.4 L866.0,441.4 L867.1,441.5 L868.2,441.5 L869.3,441.6 L870.4,441.6 L871.4,441.6 L872.5,441.7 L873.6,441.7 L874.7,441.8 L875.8,441.8 L876.8,441.8 L877.9,441.9 L879.0,441.9 L880.1,441.9 L881.1,442.0 L882.2,442.0 L883.3,442.0 L884.4,442.0 L885.4,442.1 L886.5,442.1 L887.6,442.1 L888.6,442.1 L889.7,442.1 L890.8,442.2 L891.9,442.2 L892.9,442.2 L894.0,442.2" stroke="#0000ff"/>
<path d="M47.0,498.5 L48.0,498.5 L49.0,498.5 L50.0,498.6 L51.0,498.6 L52.0,498.6 L53.0,498.6 L54.0,498.7 L55.0,498.7 L56.0,498.7 L57.0,498.7 L58.0,498.7 L59.0,498.8 L60.0,498.8 L61.0,498.8 L62.0,498.8 L63.0,498.8 L64.0,498.9 L65.0,498.9 L66.0,498.9 L67.0,498.9 L68.0,498.9 L69.0,499.0 L70.0,499.0 L71.0,499.0 L72.0,499.0 L73.0,499.0 L74.0,499.1 L75.0,499.1 L76.0,499.1 L77.0,499.1 L78.0,499.1 L79.0,499.2 L80.0,499.2 L81.0,499.2 L82.0,499.2 L83.0,499.2 L84.0,499.2 L85.0,499.3 L86.0,499.3 L87.0,499.3 L88.0,499.3 L89.0,499.3 L90.0,499.3 L91.0,499.4 L92.0,499.4 L93.0,499.4 L94.0,499.4 L95.0,499.4 L96.0,499.4 L97.0,499.5 L98.0,499.5 L99.0,499.5 L100.0,499.5 L101.0,499.5 L102.0,499.5 L103.0,499.6 L104.0,499.6 L105.0,499.6 L106.0,499.6 L107.0,499.6 L108.0,499.6 L109.0,499.7 L110.0,499.7 L111.0,499.7 L112.0,499.7 L113.0,499.7 L114.0,499.7 L115.0,499.7 L116.0,499.8 L117.0,499.8 L118.0,499.8 L119.0,499.8 L120.0,499.8 L121.0,499.8 L122.0,499.9 L123.0,499.9 L124.0,499.9 L125.0,499.9 L126.0,499.9 L127.0,499.9 L128.0,500.0 L129.0,500.0 L130.0,500.0 L131.0,500.0 L132.0,500.0 L133.0,500.0 L134.0,500.0 L135.0,500.1 L136.0,500.1 L137.0,500.1 L138.0,500.1 L138.9,500.1 L139.9,500.1 L140.9,500.2 L141.9,500.2 L142.9,500.2 L143.9,500.2 L144.9,500.2 L145.9,500.2 L146.9,500.3 L147.9,500.3 L148.9,500.3 L149.9,500.3 L150.9,500.3 L151.9,500.4 L152.9,500.4 L153.9,500.4 L154.9,500.4 L155.9,500.4 L156.9,500.4 L157.9,500.5 L158.9,500.5 L159.9,500.5 L160.9,500.5 L161.9,500.5 L162.9,500.6 L163.9,500.6 L164.9,500.6 L165.9,500.6 L166.9,500.6 L167.9,500.7 L168.9,500.7 L169.9,500.7 L170.9,500.7 L171.9,500.7 L172.8,500.8 L173.8,500.8 L174.8,500.8 L175.8,500.8 L176.8,500.8 L177.8,500.9 L178.8,500.9 L179.8,500.9 L180.8,500.9 L181.8,501.0 L182.8,501.0 L183.8,501.0 L184.8,501.0 L185.8,501.1 L186.8,501.1 L187.8,501.1 L188.8,501.1 L189.8,501.1 L190.8,501.2 L191.8,501.2 L192.8,501.2 L193.8,501.2 L194.8,501.3 L195.8,501.3 L196.8,501.3 L197.8,501.4 L198.8,501.4 L199.8,501.4 L200.7,501.4 L201.7,501.5 L202.7,501.5 L203.7,501.5 L204.7,501.5 L205.7,501.6 L206.7,501.6 L207.7,501.6 L208.7,501.7 L209.7,501.7 L210.7,501.7 L211.7,501.8 L212.7,501.8 L213.7,501.8 L214.7,501.8 L215.7,501.9 L216.7,501.9 L217.7,501.9 L218.7,502.0 L219.7,502.0 L220.7,502.0 L221.7,502.1 L222.7,502.1 L223.7,502.1 L224.7,502.2 L225.7,502.2 L226.7,502.3 L227.6,502.3 L228.6,502.3 L229.6,502.4 L230.6,502.4 L231.6,502.4 L232.6,502.5 L233.6,502.5 L234.6,502.6 L235.6,502.6 L236.6,502.6 L237.6,502.7 L238.6,502.7 L239.6,502.8 L240.6,502.8 L241.6,502.8 L242.6,502.9 L243.6,502.9 L244.6,503.0 L245.6,503.0 L246.6,503.0 L247.6,503.1 L248.6,503.1 L249.6,503.2 L250.6,503.2 L251.6,503.3 L252.6,503.3 L253.6,503.4 L254.6,503.4 L255.5,503.5 L256.5,503.5 L257.5,503.6 L258.5,503.6 L259.5,503.7 L260.5,503.7 L261.5,503.8 L262.5,503.8 L263.5,503.9 L264.5,503.9 L265.5,504.0 L266.5,504.0 L267.5,504.1 L268.5,504.1 L269.5,504.2 L270.5,504.2 L271.5,504.3 L272.5,504.3 L273.5,504.4 L274.5,504.5 L275.5,504.5 L276.5,504.6 L277.5,504.6 L278.5,504.7 L279.5,504.7 L280.5,504.8 L281.5,504.9 L282.5,504.9 L283.5,505.0 L284.5,505.1 L285.5,505.1 L286.5,505.2 L287.5,505.2 L288.4,505.3 L289.4,505.4 L290.4,505.4 L291.4,505.5 L292.4,505.6 L293.4,505.6 L294.4,505.7 L295.4,505.8 L296.4,505.8 L297.4,505.9 L298.4,506.0 L299.4,506.1 L300.4,506.1 L301.4,506.2 L302.4,506.3 L303.4,506.3 L304.4,506.4 L305.4,506.5 L306.4,506.6 L307.4,506.6 L308.4,506.7 L309.4,506.8 L310.4,506.9 L311.4,506.9 L312.4,507.0 L313.4,507.1 L314.4,507.2 L315.4,507.3 L316.4,507.3 L317.4,507.4 L318.4,507.5 L319.4,507.6 L320.4,507.7 L321.4,507.8 L322.4,507.9 L323.4,507.9 L324.4,508.0 L325.4,508.1 L326.4,508.2 L327.4,508.3 L328.4,508.4 L329.4,508.5 L330.4,508.6 L331.4,508.7 L332.4,508.7 L333.4,508.8 L334.4,508.9 L335.4,509.0 L336.4,509.1 L337.4,509.2 L338.4,509.3 L339.4,509.4 L340.4,509.5 L341.4,509.6 L342.4,509.7 L343.4,509.8 L344.4,509.9 L345.4,510.0 L346.4,510.1 L347.4,510.2 L348.4,510.3 L349.4,510.4 L350.4,510.5 L351.4,510.6 L352.4,510.7 L353.4,510.9 L354.4,511.0 L355.4,511.1 L356.4,511.2 L357.4,511.3 L358.4,511.4 L359.4,511.5 L360.4,511.6 L361.4,511.7 L362.4,511.8 L363.4,512.0 L364.4,512.1 L365.4,512.2 L366.4,512.3 L367.4,512.4 L368.4,512.5 L369.4,512.6 L370.4,512.8 L371.4,512.9 L372.4,513.0 L373.4,513.1 L374.4,513.2 L375.4,513.3 L376.4,513.4 L377.4,513.6 L378.4,513.7 L379.4,513.8 L380.4,513.9 L381.4,514.0 L382.4,514.1 L383.4,514.2 L384.4,514.3 L385.4,514.4 L386.4,514.5 L387.4,514.7 L388.4,514.8 L389.4,514.9 L390.4,515.0 L391.4,515.1 L392.3,515.2 L393.3,515.3 L394.3,515.4 L395.3,515.5 L396.3,515.6 L397.3,515.7 L398.3,515.8 L399.3,515.9 L400.3,516.0 L401.3,516.1 L402.3,516.2 L403.3,516.2 L404.3,516.3 L405.3,516.4 L406.3,516.5 L407.3,516.6 L408.3,516.7 L409.3,516.8 L410.3,516.8 L411.2,516.9 L412.2,517.0 L413.2,517.1 L414.2,517.1 L415.2,517.2 L416.2,517.3 L417.2,517.3 L418.2,517.4 L419.2,517.5 L420.2,517.5 L421.1,517.6 L422.1,517.6 L423.1,517.7 L424.1,517.7 L425.1,517.8 L426.1,517.8 L427.1,517.9 L428.0,517.9 L429.0,518.0 L430.0,518.0 L431.0,518.0 L432.0,518.1 L433.0,518.1 L433.9,518.1 L434.9,518.1 L435.9,518.2 L436.9,518.2 L437.9,518.2 L438.8,518.2 L439.8,518.2 L440.8,518.2 L441.8,518.2 L442.8,518.2 L443.7,518.2 L444.7,518.2 L445.7,518.2 L446.7,518.2 L447.6,518.1 L448.6,518.1 L449.6,518.0 L450.6,518.0 L451.5,517.9 L452.5,517.8 L453.5,517.7 L454.4,517.7 L455.4,517.5 L456.4,517.4 L457.3,517.3 L458.3,517.1 L459.3,517.0 L460.2,516.8 L461.2,516.6 L462.2,516.4 L463.1,516.2 L464.1,515.9 L465.1,515.6 L466.0,515.4 L467.0,515.1 L467.9,514.8 L468.9,514.4 L469.8,514.1 L470.8,513.7 L471.7,513.4 L472.6,513.0 L473.6,512.6 L474.5,512.1 L475.4,511.7 L476.3,511.3 L477.2,510.8 L478.1,510.3 L479.0,509.8 L479.9,509.3 L480.7,508.8 L481.6,508.3 L482.4,507.7 L483.3,507.2 L484.1,506.6 L484.9,506.0 L485.7,505.4 L486.5,504.8 L487.3,504.2 L488.1,503.6 L488.9,502.9 L489.6,502.3 L490.4,501.6 L491.1,500.9 L491.8,500.3 L492.5,499.6 L493.2,498.9 L493.9,498.1 L494.6,497.4 L495.3,496.7 L495.9,495.9 L496.6,495.2 L497.2,494.4 L497.8,493.6 L498.4,492.9 L499.0,492.1 L499.6,491.3 L500.2,490.5 L500.8,489.7 L501.3,488.9 L501.9,488.0 L502.4,487.2 L502.9,486.4 L503.5,485.5 L504.0,484.7 L504.5,483.8 L505.0,483.0 L505.5,482.1 L506.0,481.2 L506.5,480.4 L506.9,479.5 L507.4,478.6 L507.9,477.7 L508.3,476.8 L508.8,475.9 L509.3,475.0 L509.7,474.2 L510.2,473.3 L510.6,472.4 L511.1,471.5 L511.5,470.6 L512.0,469.6 L512.4,468.7 L512.8,467.8 L513.3,466.9 L513.7,466.0 L514.2,465.1 L514.6,464.2 L515.1,463.3 L515.5,462.4 L516.0,461.5 L516.4,460.6 L516.9,459.7 L517.3,458.8 L517.8,457.9 L518.2,457.0 L518.7,456.1 L519.2,455.3 L519.7,454.4 L520.2,453.5 L520.6,452.6 L521.1,451.8 L521.6,450.9 L522.2,450.0 L522.7,449.2 L523.2,448.3 L523.7,447.5 L524.3,446.6 L524.8,445.8 L525.4,445.0 L526.0,444.2 L526.5,443.4 L527.1,442.6 L527.7,441.8 L528.3,441.0 L529.0,440.2 L529.6,439.4 L530.2,438.6 L530.9,437.9 L531.6,437.1 L532.2,436.4 L532.9,435.7 L533.7,435.0 L534.4,434.3 L535.1,433.6 L535.9,432.9 L536.7,432.2 L537.4,431.5 L538.2,430.9 L539.1,430.3 L539.9,429.6 L540.7,429.0 L541.6,428.5 L542.5,428.0 L543.4,427.5 L544.3,427.0 L545.2,426.6 L546.1,426.2 L547.1,425.9 L548.0,425.6 L549.0,425.3 L549.9,425.1 L550.9,425.0 L551.9,424.8 L552.8,424.7 L553.8,424.7 L554.8,424.6 L555.8,424.6 L556.8,424.7 L557.7,424.7 L558.7,424.8 L559.7,424.9 L560.6,425.1 L561.6,425.2 L562.6,425.4 L563.6,425.6 L564.5,425.9 L565.5,426.1 L566.5,426.4 L567.4,426.7 L568.4,427.0 L569.4,427.3 L570.3,427.7 L571.3,428.0 L572.2,428.4 L573.2,428.8 L574.2,429.1 L575.1,429.5 L576.1,429.9 L577.0,430.4 L578.0,430.8 L578.9,431.2 L579.9,431.6 L580.9,432.1 L581.8,432.5 L582.8,432.9 L583.7,433.4 L584.7,433.8 L585.6,434.3 L586.6,434.7 L587.5,435.1 L588.5,435.5 L589.4,435.9 L590.4,436.4 L591.3,436.8 L592.3,437.2 L593.2,437.6 L594.2,437.9 L595.1,438.3 L596.1,438.7 L597.0,439.1 L597.9,439.4 L598.9,439.8 L599.8,440.2 L600.8,440.5 L601.7,440.9 L602.7,441.2 L603.6,441.5 L604.6,441.9 L605.5,442.2 L606.5,442.5 L607.4,442.9 L608.3,443.2 L609.3,443.5 L610.2,443.8 L611.2,444.1 L612.1,444.4 L613.1,444.7 L614.0,445.0 L615.0,445.3 L615.9,445.6 L616.8,445.9 L617.8,446.2 L618.7,446.4 L619.7,446.7 L620.6,447.0 L621.6,447.3 L622.5,447.5 L623.5,447.8 L624.4,448.1 L625.4,448.3 L626.3,448.6 L627.3,448.8 L628.2,449.1 L629.2,449.3 L630.1,449.6 L631.1,449.8 L632.0,450.1 L633.0,450.3 L633.9,450.6 L634.9,450.8 L635.8,451.1 L636.8,451.3 L637.7,451.5 L638.7,451.8 L639.6,452.0 L640.6,452.2 L641.5,452.5 L642.5,452.7 L643.5,452.9 L644.4,453.1 L645.4,453.4 L646.3,453.6 L647.3,453.8 L648.3,454.0 L649.2,454.2 L650.2,454.5 L651.1,454.7 L652.1,454.9 L653.1,455.1 L654.0,455.3 L655.0,455.5 L656.0,455.7 L656.9,455.9 L657.9,456.1 L658.8,456.3 L659.8,456.5 L660.8,456.7 L661.7,456.9 L662.7,457.1 L663.7,457.3 L664.6,457.5 L665.6,457.7 L666.6,457.9 L667.6,458.1 L668.5,458.3 L669.5,458.5 L670.5,458.7 L671.4,458.8 L672.4,459.0 L673.4,459.2 L674.4,459.4 L675.3,459.6 L676.3,459.7 L677.3,459.9 L678.2,460.1 L679.2,460.3 L680.2,460.4 L681.2,460.6 L682.2,460.8 L683.1,461.0 L684.1,461.1 L685.1,461.3 L686.1,461.5 L687.0,461.6 L688.0,461.8 L689.0,461.9 L690.0,462.1 L691.0,462.3 L691.9,462.4 L692.9,462.6 L693.9,462.7 L694.9,462.9 L695.9,463.0 L696.8,463.2 L697.8,463.3 L698.8,463.5 L699.8,463.6 L700.8,463.8 L701.7,463.9 L702.7,464.1 L703.7,464.2 L704.7,464.4 L705.7,464.5 L706.7,464.6 L707.7,464.8 L708.6,464.9 L709.6,465.0 L710.6,465.2 L711.6,465.3 L712.6,465.4 L713.6,465.6 L714.6,465.7 L715.5,465.8 L716.5,466.0 L717.5,466.1 L718.5,466.2 L719.5,466.3 L720.5,466.5 L721.5,466.6 L722.5,466.7 L723.5,466.8 L724.4,467.0 L725.4,467.1 L726.4,467.2 L727.4,467.3 L728.4,467.4 L729.4,467.5 L730.4,467.7 L731.4,467.8 L732.4,467.9 L733.4,468.0 L734.4,468.1 L735.4,468.2 L736.3,468.3 L737.3,468.4 L738.3,468.5 L739.3,468.6 L740.3,468.8 L741.3,468.9 L742.3,469.0 L743.3,469.1 L744.3,469.2 L745.3,469.3 L746.3,469.4 L747.3,469.5 L748.3,469.6 L749.3,469.7 L750.3,469.8 L751.3,469.8 L752.3,469.9 L753.3,470.0 L754.3,470.1 L755.3,470.2 L756.3,470.3 L757.3,470.4 L758.3,470.5 L759.2,470.6 L760.2,470.7 L761.2,470.8 L762.2,470.8 L763.2,470.9 L764.2,471.0 L765.2,471.1 L766.2,471.2 L767.2,471.3 L768.2,471.3 L769.2,471.4 L770.2,471.5 L771.2,471.6 L772.2,471.7 L773.2,471.7 L774.2,471.8 L775.2,471.9 L776.2,472.0 L777.2,472.1 L778.2,472.1 L779.2,472.2 L780.2,472.3 L781.2,472.3 L782.2,472.4 L783.2,472.5 L784.2,472.6 L785.2,472.6 L786.2,472.7 L787.2,472.8 L788.2,472.8 L789.2,472.9 L790.2,473.0 L791.2,473.0 L792.2,473.1 L793.2,473.2 L794.2,473.2 L795.2,473.3 L796.2,473.4 L797.2,473.4 L798.2,473.5 L799.2,473.6 L800.2,473.6 L801.2,473.7 L802.2,473.7 L803.2,473.8 L804.2,473.9 L805.2,473.9 L806.2,474.0 L807.2,474.0 L808.2,474.1 L809.3,474.2 L810.3,474.2 L811.3,474.3 L812.3,474.3 L813.3,474.4 L814.3,474.4 L815.3,474.5 L816.3,474.5 L817.3,474.6 L818.3,474.6 L819.3,474.7 L820.3,474.8 L821.3,474.8 L822.3,474.9 L823.3,474.9 L824.3,475.0 L825.3,475.0 L826.3,475.1 L827.3,475.1 L828.3,475.2 L829.3,475.2 L830.3,475.3 L831.3,475.3 L832.3,475.4 L833.3,475.4 L834.3,475.5 L835.3,475.5 L836.3,475.5 L837.3,475.6 L838.3,475.6 L839.3,475.7 L840.3,475.7 L841.3,475.8 L842.3,475.8 L843.3,475.9 L844.3,475.9 L845.3,476.0 L846.3,476.0 L847.3,476.1 L848.3,476.1 L849.3,476.1 L850.3,476.2 L851.3,476.2 L852.3,476.3 L853.3,476.3 L854.2,476.4 L855.2,476.4 L856.2,476.4 L857.2,476.5 L858.2,476.5 L859.2,476.6 L860.2,476.6 L861.2,476.7 L862.2,476.7 L863.2,476.7 L864.2,476.8 L865.2,476.8 L866.2,476.9 L867.2,476.9 L868.2,476.9 L869.2,477.0 L870.2,477.0 L871.2,477.1 L872.2,477.1 L873.2,477.1 L874.2,477.2 L875.2,477.2 L876.2,477.3 L877.1,477.3 L878.1,477.3 L879.1,477.4 L880.1,477.4 L881.1,477.5 L882.1,477.5 L883.1,477.6 L884.1,477.6 L885.1,477.6 L886.1,477.7 L887.1,477.7 L888.1,477.8 L889.1,477.8 L890.0,477.8 L891.0,477.9 L892.0,477.9 L893.0,478.0 L894.0,478.0" stroke="#0000ff" stroke-dasharray="55.9 20.15"/>
</g>
<g stroke="#000" stroke-width="2.40" fill="none">
<line x1="49.90" y1="528.90" x2="60.00" y2="528.90"/>
<line x1="49.90" y1="503.38" x2="56.00" y2="503.38"/>
<line x1="49.90" y1="477.85" x2="56.00" y2="477.85"/>
<line x1="49.90" y1="452.32" x2="56.00" y2="452.32"/>
<line x1="49.90" y1="426.80" x2="56.00" y2="426.80"/>
<line x1="49.90" y1="401.27" x2="60.00" y2="401.27"/>
<line x1="49.90" y1="375.75" x2="56.00" y2="375.75"/>
<line x1="49.90" y1="350.23" x2="56.00" y2="350.23"/>
<line x1="49.90" y1="324.70" x2="56.00" y2="324.70"/>
<line x1="49.90" y1="299.17" x2="56.00" y2="299.17"/>
<line x1="49.90" y1="273.65" x2="60.00" y2="273.65"/>
<line x1="49.90" y1="248.12" x2="56.00" y2="248.12"/>
<line x1="49.90" y1="222.60" x2="56.00" y2="222.60"/>
<line x1="49.90" y1="197.07" x2="56.00" y2="197.07"/>
<line x1="49.90" y1="171.55" x2="56.00" y2="171.55"/>
<line x1="49.90" y1="146.02" x2="60.00" y2="146.02"/>
<line x1="49.90" y1="120.50" x2="56.00" y2="120.50"/>
<line x1="49.90" y1="94.98" x2="56.00" y2="94.98"/>
<line x1="49.90" y1="69.45" x2="56.00" y2="69.45"/>
<line x1="49.90" y1="43.93" x2="56.00" y2="43.93"/>
<line x1="49.90" y1="18.40" x2="60.00" y2="18.40"/>
<line x1="92.18" y1="528.90" x2="92.18" y2="523.00"/>
<line x1="134.35" y1="528.90" x2="134.35" y2="519.20"/>
<line x1="176.53" y1="528.90" x2="176.53" y2="523.00"/>
<line x1="218.70" y1="528.90" x2="218.70" y2="523.00"/>
<line x1="260.88" y1="528.90" x2="260.88" y2="523.00"/>
<line x1="303.05" y1="528.90" x2="303.05" y2="519.20"/>
<line x1="345.23" y1="528.90" x2="345.23" y2="523.00"/>
<line x1="387.40" y1="528.90" x2="387.40" y2="523.00"/>
<line x1="429.57" y1="528.90" x2="429.57" y2="523.00"/>
<line x1="471.75" y1="528.90" x2="471.75" y2="519.20"/>
<line x1="513.92" y1="528.90" x2="513.92" y2="523.00"/>
<line x1="556.10" y1="528.90" x2="556.10" y2="523.00"/>
<line x1="598.27" y1="528.90" x2="598.27" y2="523.00"/>
<line x1="640.45" y1="528.90" x2="640.45" y2="519.20"/>
<line x1="682.62" y1="528.90" x2="682.62" y2="523.00"/>
<line x1="724.80" y1="528.90" x2="724.80" y2="523.00"/>
<line x1="766.97" y1="528.90" x2="766.97" y2="523.00"/>
<line x1="809.15" y1="528.90" x2="809.15" y2="519.20"/>
<line x1="851.33" y1="528.90" x2="851.33" y2="523.00"/>
</g>
<rect x="49.90" y="7.90" width="843.60" height="521.00" fill="none" stroke="#000" stroke-width="2.65"/>
<text transform="translate(41.00,540.00) scale(0.2930,0.3080)" font-size="100" text-anchor="end" stroke="#000" stroke-width="1.3">0.0</text>
<text transform="translate(41.00,412.38) scale(0.2930,0.3080)" font-size="100" text-anchor="end" stroke="#000" stroke-width="1.3">0.1</text>
<g transform="translate(41.00,412.38) scale(0.2930,0.3080)" fill="#fff"><rect x="-51" y="-9.5" width="20.4" height="12"/><rect x="-21.5" y="-9.5" width="20" height="12"/></g>
<text transform="translate(41.00,284.75) scale(0.2930,0.3080)" font-size="100" text-anchor="end" stroke="#000" stroke-width="1.3">0.2</text>
<text transform="translate(41.00,157.12) scale(0.2930,0.3080)" font-size="100" text-anchor="end" stroke="#000" stroke-width="1.3">0.3</text>
<text transform="translate(41.00,29.50) scale(0.2930,0.3080)" font-size="100" text-anchor="end" stroke="#000" stroke-width="1.3">0.4</text>
<text transform="translate(115.80,571.98) scale(0.2933,0.4068)" font-size="100" font-family="Liberation Sans" fill="#000">−</text>
<text transform="translate(135.55,566.30) scale(0.2930,0.3010)" font-size="100" text-anchor="start" stroke="#000" stroke-width="1.3">4</text>
<text transform="translate(284.50,571.98) scale(0.2933,0.4068)" font-size="100" font-family="Liberation Sans" fill="#000">−</text>
<text transform="translate(304.25,566.30) scale(0.2930,0.3010)" font-size="100" text-anchor="start" stroke="#000" stroke-width="1.3">2</text>
<text transform="translate(471.25,566.30) scale(0.2930,0.3010)" font-size="100" text-anchor="middle" stroke="#000" stroke-width="1.3">0</text>
<text transform="translate(639.95,566.30) scale(0.2930,0.3010)" font-size="100" text-anchor="middle" stroke="#000" stroke-width="1.3">2</text>
<text transform="translate(808.65,566.30) scale(0.2930,0.3010)" font-size="100" text-anchor="middle" stroke="#000" stroke-width="1.3">4</text>
<text transform="translate(419.43,620.90) scale(0.3876,0.3677)" font-size="100" font-family="Liberation Sans" font-weight="bold" fill="#000">Δ</text>
<text transform="translate(448.52,627.36) scale(0.2526,0.2409)" font-size="100" font-family="Liberation Sans" font-weight="bold" font-style="italic" fill="#000">c</text>
<text transform="translate(466.01,620.78) scale(0.2445,0.3572)" font-size="100" font-family="Liberation Sans" font-weight="bold" font-style="italic" fill="#000">/</text>
<text transform="translate(476.88,621.07) scale(0.3624,0.3356)" font-size="100" font-family="Liberation Sans" font-weight="bold" font-style="italic" fill="#000">ω</text>
<text transform="translate(505.30,627.56) scale(0.2663,0.2507)" font-size="100" font-family="Liberation Sans" font-weight="bold" font-style="italic" fill="#000">s</text>
<text transform="translate(826.44,53.40) scale(0.3933,0.4098)" font-size="100" font-family="Liberation Sans" font-weight="bold" fill="#000">(b)</text>
<rect x="58.45" y="15.5" width="221.85" height="234.15" rx="12" ry="12" fill="#fff" stroke="#000" stroke-width="2.5"/>
<line x1="73.3" y1="43.0" x2="170.4" y2="43.0" stroke="#ff0000" stroke-width="5.00"/>
<text transform="translate(188.50,53.75) scale(0.2919,0.3132)" font-size="100" font-family="Liberation Sans" font-style="italic" stroke="#000" stroke-width="0.99" fill="#000">F</text>
<text transform="translate(206.24,59.17) scale(0.2152,0.2373)" font-size="100" font-family="Liberation Sans" font-style="italic" stroke="#000" stroke-width="1.33" fill="#000">G</text>
<text transform="translate(222.46,63.75) scale(0.2326,0.2053)" font-size="100" font-family="Liberation Sans" stroke="#000" stroke-width="1.37" fill="#000">mc</text>
<line x1="73.3" y1="100.0" x2="170.4" y2="100.0" stroke="#ff0000" stroke-width="5.00" stroke-dasharray="54.8 19.6"/>
<path transform="translate(0,0.15)" d="M190.40,100.40 C190.18,100.10 189.38,99.18 189.10,98.60 C188.82,98.02 188.63,97.53 188.70,96.90 C188.77,96.27 189.10,95.40 189.50,94.80 C189.90,94.20 190.22,93.88 191.10,93.30 C191.98,92.72 193.38,91.78 194.80,91.30 C196.23,90.82 198.03,90.47 199.65,90.40 C201.27,90.33 202.88,90.67 204.50,90.90 C206.12,91.13 207.97,91.78 209.40,91.80 C210.83,91.82 212.17,91.32 213.10,91.00 C214.03,90.68 214.68,90.08 215.00,89.90 M200.20,90.70 C199.98,91.38 199.30,93.22 198.90,94.80 C198.50,96.38 198.18,98.40 197.80,100.20 C197.42,102.00 197.10,104.02 196.60,105.60 C196.10,107.18 195.60,108.58 194.80,109.70 C194.00,110.82 192.93,111.72 191.80,112.30 C190.67,112.88 188.63,113.05 188.00,113.20 M194.90,99.30 L207.00,99.30" fill="none" stroke="#000" stroke-width="2.2" stroke-linecap="round" stroke-linejoin="round"/>
<text transform="translate(215.84,116.72) scale(0.2152,0.2373)" font-size="100" font-family="Liberation Sans" font-style="italic" stroke="#000" stroke-width="1.33" fill="#000">G</text>
<text transform="translate(232.06,121.30) scale(0.2326,0.2053)" font-size="100" font-family="Liberation Sans" stroke="#000" stroke-width="1.37" fill="#000">mc</text>
<line x1="73.3" y1="157.3" x2="170.4" y2="157.3" stroke="#0000ff" stroke-width="5.00"/>
<text transform="translate(188.50,168.85) scale(0.2919,0.3132)" font-size="100" font-family="Liberation Sans" font-style="italic" stroke="#000" stroke-width="0.99" fill="#000">F</text>
<text transform="translate(206.24,174.27) scale(0.2152,0.2373)" font-size="100" font-family="Liberation Sans" font-style="italic" stroke="#000" stroke-width="1.33" fill="#000">G</text>
<text transform="translate(222.50,178.85) scale(0.2259,0.2053)" font-size="100" font-family="Liberation Sans" stroke="#000" stroke-width="1.39" fill="#000">ms</text>
<line x1="73.3" y1="214.8" x2="170.4" y2="214.8" stroke="#0000ff" stroke-width="5.00" stroke-dasharray="54.8 19.6"/>
<path transform="translate(0,115.25)" d="M190.40,100.40 C190.18,100.10 189.38,99.18 189.10,98.60 C188.82,98.02 188.63,97.53 188.70,96.90 C188.77,96.27 189.10,95.40 189.50,94.80 C189.90,94.20 190.22,93.88 191.10,93.30 C191.98,92.72 193.38,91.78 194.80,91.30 C196.23,90.82 198.03,90.47 199.65,90.40 C201.27,90.33 202.88,90.67 204.50,90.90 C206.12,91.13 207.97,91.78 209.40,91.80 C210.83,91.82 212.17,91.32 213.10,91.00 C214.03,90.68 214.68,90.08 215.00,89.90 M200.20,90.70 C199.98,91.38 199.30,93.22 198.90,94.80 C198.50,96.38 198.18,98.40 197.80,100.20 C197.42,102.00 197.10,104.02 196.60,105.60 C196.10,107.18 195.60,108.58 194.80,109.70 C194.00,110.82 192.93,111.72 191.80,112.30 C190.67,112.88 188.63,113.05 188.00,113.20 M194.90,99.30 L207.00,99.30" fill="none" stroke="#000" stroke-width="2.2" stroke-linecap="round" stroke-linejoin="round"/>
<text transform="translate(215.84,231.82) scale(0.2152,0.2373)" font-size="100" font-family="Liberation Sans" font-style="italic" stroke="#000" stroke-width="1.33" fill="#000">G</text>
<text transform="translate(232.10,236.40) scale(0.2259,0.2053)" font-size="100" font-family="Liberation Sans" stroke="#000" stroke-width="1.39" fill="#000">ms</text>
</svg></body></html>
